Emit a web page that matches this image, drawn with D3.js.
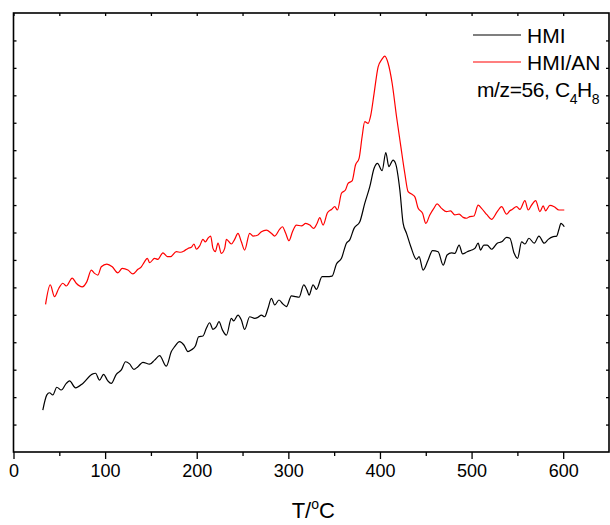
<!DOCTYPE html>
<html>
<head>
<meta charset="utf-8">
<script src="https://cdn.jsdelivr.net/npm/d3@7"></script>
<style>
  body { margin: 0; background: #fff; }
  text { font-family: "Liberation Sans", Arial, sans-serif; fill: #000; }
</style>
</head>
<body>
<div id="chart"></div>
<script>
// m/z = 56 (C4H8) MS signal vs temperature

const width = 610,
    height = 525,
    margin = ({ top: 13, right: 1, bottom: 73, left: 13.5 });

// temperature (°C) and intensity (a.u.)
const tempHMI = [32,36.4,39.3,42.9,47.3,52.1,57.6,61.2,67.7,75.7, 86,89.6,93.9,98.3,103,106.7,112.2,117.7,122.3,126.7,
  131.4,135.8,141.2,148.6,154,159.5,166.8,172.3,175.9,181.3, 186,190.4,194.1,198.5,202.1,206.8,210.5,214.1,217.7,221.4,
  224.3,228,232.4,237.8,240.3,245,248.7,252.3,257.8,263.3, 266.9,270.6,274.2,277.8,281.5,285.1,289.8,294.2,297.9,303.4,
  308.1,311.7,316.8,320.4,322.6,327,330.7,336.8,341.6,347.7, 352.5,358,363.4,367,371.7,378,383.4,388.9,393.6,397.3,
  402.3,406.4,409.7,414.3,417,421.7,425.3,429,433.7,439.9, 442.7,447.1,452.6,457.4,463.5,469,473.3,478.1,481.7,486.4,
  490.2,495.2,500,503.6,507.2,509.8,513.4,517,521.8,528, 532.8,538.2,541.8,546.5,550.2,554.6,558.2,562.6,568.4,573.5,
  579.3,583.7,589.2,592.9,595.4,597.5,601.2];
const intHMI = [1.53,2.08,2.16,2.08,2.36,2.26,2.50,2.59,2.34,2.50, 2.84,2.87,2.62,2.83,2.59,2.50,2.83,2.99,3.29,3.21,
  3.01,3.11,3.27,3.20,3.35,3.51,3.13,3.66,3.84,4.02, 3.90,3.66,3.72,3.86,4.20,4.23,4.51,4.71,4.47,4.57,
  4.75,4.45,4.26,4.87,4.78,4.99,4.81,4.47,4.93,4.87, 4.91,4.99,4.93,5.24,5.60,5.36,5.54,5.39,5.30,5.69,
  5.66,5.64,6.09,5.90,5.72,6.09,5.93,6.39,6.39,6.41, 6.85,7.06,7.61,7.73,8.15,8.39,9.06,9.67,10.34,10.52,
  10.25,10.91,10.40,10.64,10.52,9.55,8.33,7.97,7.48,7.02, 7.12,6.63,7.00,7.34,7.30,6.81,7.18,7.26,7.24,7.54,
  7.22,7.30,7.36,7.42,7.61,7.36,7.54,7.54,7.39,7.61, 7.66,7.82,7.79,7.24,7.06,7.66,7.58,7.79,7.61,7.87,
  7.61,7.75,7.85,7.87,8.12,8.33,8.21];

const tempAN = [35,40.1,44.8,49.5,53.9,57.6,64.1,68.5,75,80.1, 84.9,88.5,92.1,95.8,101.9,107.8,113.9,118.7,124.9,130.3,
  135.8,139.5,143.1,146.1,148.6,154,157.6,163.1,167.9,171.5, 177.7,182.4,186.8,190.4,194.1,197,199.6,203.2,206.8,209.4,
  212.3,215.2,217.7,220.3,223.2,226.9,230.5,232.4,237.8,241.4, 245,248.7,252.3,257.8,261.4,266.9,270.6,276,281.5,285.1,
  290.6,293.5,297.1,300.7,304.5,308.8,314.3,319,323.4,327.7, 331.3,334.3,337.9,342.7,347.1,350.7,353.6,358,362.3,365.2,
  369.6,373.3,377.2,380.5,383.4,387,390,393.6,398,401.7, 405.3,408.9,413.3,418.1,422.8,427.1,430.7,434.5,438.1,441.7,
  446.5,450.1,454.4,458.8,462.4,467.2,472.7,477,481.7,486.4, 490.8,494.5,498.1,502.5,507.2,510.9,517,521.8,528,532.8,
  538.2,541.8,544.3,549.2,552.8,558.2,561.8,565.5,569.9,574.6, 578.2,580.8,585.5,590.2,595.4,601.2];
const intAN = [5.38,6.09,5.66,5.97,6.15,6.05,6.34,6.15,6.02,6.21, 6.63,6.51,6.45,6.75,6.85,6.75,6.53,6.69,6.63,6.49,
  6.66,6.75,6.94,7.06,6.90,7.06,7.02,7.26,7.12,7.12, 7.30,7.28,7.34,7.42,7.46,7.58,7.39,7.51,7.75,7.66,
  7.79,7.87,7.42,7.30,7.61,7.24,7.42,7.75,7.58,7.75, 7.97,7.66,7.36,7.97,7.87,7.91,8.03,8.09,7.97,7.87,
  8.12,8.21,7.97,7.70,8.03,8.27,8.24,8.33,8.27,8.15, 8.33,8.54,8.27,8.72,8.84,8.94,8.82,9.43,9.55,9.79,
  9.88,10.46,10.70,11.49,12.04,11.98,12.28,13.07,14.04,14.29, 14.43,14.17,13.44,12.22,11.13,10.16,9.49,9.40,9.30,8.88,
  8.70,8.33,8.64,8.88,9.04,8.88,8.76,8.79,8.64,8.67, 8.55,8.52,8.58,8.60,9.00,8.88,8.64,8.48,8.76,8.94,
  8.67,8.79,8.84,8.94,8.84,9.16,8.82,9.00,9.16,8.76, 8.97,8.79,8.99,8.94,8.82,8.82];

const seriesNames = ["HMI", "HMI/AN"];
const seriesColors = ["#000000", "#ff0000"];
const xMajorTicks = [0, 100, 200, 300, 400, 500, 600];
const xMinorTicks = [50, 150, 250, 350, 450, 550];

const svg = d3.select("#chart")
  .append("svg")
  .attr("width", width)
  .attr("height", height)
  .attr("viewBox", [0, 0, width, height]);

const x = d3.scaleLinear()
  .domain([0, 650])
  .range([margin.left, width - margin.right]);

const y = d3.scaleLinear()
  .domain([0, 16])
  .range([height - margin.bottom, margin.top]);

const bottom = height - margin.bottom;

// bottom axis: major ticks with labels, minor ticks without
svg.append("g")
  .attr("transform", `translate(0,${bottom})`)
  .call(d3.axisBottom(x).tickValues(xMajorTicks).tickSize(7).tickSizeOuter(0).tickPadding(5))
  .call(g => g.selectAll("text").attr("font-size", 18).attr("font-family", null))
  .call(g => g.select(".domain").remove());

svg.append("g")
  .attr("transform", `translate(0,${bottom})`)
  .call(d3.axisBottom(x).tickValues(xMinorTicks).tickSize(4).tickFormat(""))
  .call(g => g.select(".domain").remove());

// top axis, ticks pointing in
svg.append("g")
  .attr("transform", `translate(0,${margin.top})`)
  .call(d3.axisBottom(x).tickValues(xMajorTicks.concat(xMinorTicks)).tickSize(3).tickFormat(""))
  .call(g => g.select(".domain").remove());

// left and right axes, no labels, ticks pointing in
const yTicks = d3.range(1, 16);
svg.append("g")
  .attr("transform", `translate(${margin.left},0)`)
  .call(d3.axisRight(y).tickValues(yTicks).tickSize(3).tickFormat(""))
  .call(g => g.select(".domain").remove());

svg.append("g")
  .attr("transform", `translate(${width - margin.right},0)`)
  .call(d3.axisLeft(y).tickValues(yTicks).tickSize(3).tickFormat(""))
  .call(g => g.select(".domain").remove());

svg.selectAll(".tick line").attr("stroke", "#000").attr("stroke-width", 1.3);

// frame
svg.append("rect")
  .attr("x", margin.left)
  .attr("y", margin.top)
  .attr("width", width - margin.right - margin.left)
  .attr("height", bottom - margin.top)
  .attr("fill", "none")
  .attr("stroke", "#000")
  .attr("stroke-width", 1.6);

// lines
const line = d3.line()
  .x(d => x(d[0]))
  .y(d => y(d[1]))
  .curve(d3.curveMonotoneX);

const series = [
  d3.zip(tempHMI, intHMI),
  d3.zip(tempAN, intAN)
];

svg.selectAll(".series")
  .data(series)
  .join("path")
  .attr("class", "series")
  .attr("d", line)
  .attr("fill", "none")
  .attr("stroke", (d, i) => seriesColors[i])
  .attr("stroke-width", 1.2);

// legend
const legend = svg.append("g");
seriesNames.forEach((name, i) => {
  const ly = 35 + i * 27;
  legend.append("line")
    .attr("x1", 473).attr("x2", 521)
    .attr("y1", ly).attr("y2", ly)
    .attr("stroke", seriesColors[i])
    .attr("stroke-width", 1.2);
  legend.append("text")
    .attr("x", 527)
    .attr("y", ly + 8)
    .attr("font-size", 21)
    .text(name);
});

const note = legend.append("text")
  .attr("x", 477)
  .attr("y", 97)
  .attr("font-size", 21)
  .attr("letter-spacing", -0.4);
note.append("tspan").text("m/z=56, C");
note.append("tspan").attr("font-size", 14).attr("dy", 7).text("4");
note.append("tspan").attr("dy", -7).text("H");
note.append("tspan").attr("font-size", 14).attr("dy", 7).text("8");

// x axis title
const title = svg.append("text")
  .attr("x", (margin.left + width - margin.right) / 2 + 2)
  .attr("y", 518)
  .attr("text-anchor", "middle")
  .attr("font-size", 22);
title.append("tspan").text("T/");
title.append("tspan").attr("font-size", 14).attr("dy", -9).text("o");
title.append("tspan").attr("dy", 9).text("C");
</script>
</body>
</html>
